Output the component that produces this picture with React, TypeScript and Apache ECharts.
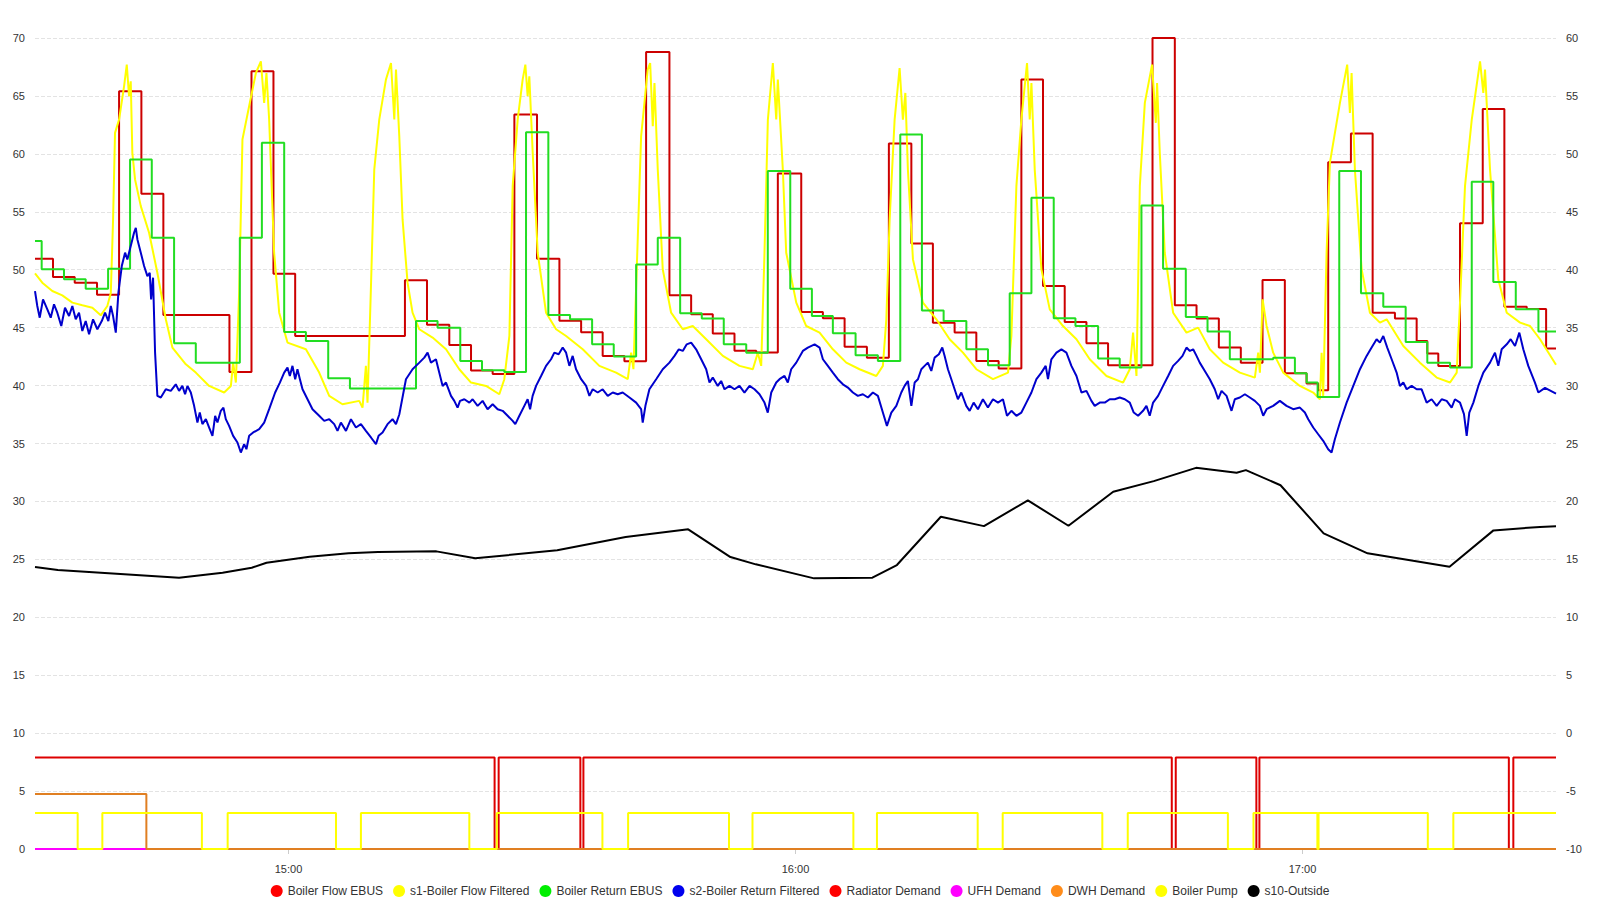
import React, { useEffect, useRef } from "react";
import * as echarts from "echarts";

// time axis: minutes after 14:30
const START = new Date(2024, 0, 15, 14, 30, 0).getTime();
const MINUTE = 60000;

const seriesNames = [
  "Boiler Flow EBUS",
  "s1-Boiler Flow Filtered",
  "Boiler Return EBUS",
  "s2-Boiler Return Filtered",
  "Radiator Demand",
  "UFH Demand",
  "DWH Demand",
  "Boiler Pump",
  "s10-Outside",
];

const flowEbus = [
  [0, 50.95], [2.13, 49.37], [4.7, 48.88], [7.34, 47.84], [9.95, 65.4], [12.59, 56.55], [15.19, 46.1],
  [23.01, 41.18], [25.62, 67.13], [28.22, 49.66], [30.79, 44.28], [43.78, 49.08], [46.39, 45.26],
  [49.03, 43.5], [51.6, 41.3], [54.16, 41.0], [56.73, 63.4], [59.41, 50.95], [62.06, 45.6], [64.63, 44.6],
  [67.18, 42.56], [69.75, 42.1], [72.32, 68.8], [75.08, 47.8], [77.65, 46.15], [80.21, 44.5], [82.78, 43.0],
  [85.35, 42.85], [87.91, 58.3], [90.68, 46.35], [93.24, 45.8], [95.81, 43.36], [98.45, 42.41],
  [101.05, 60.89], [103.71, 52.27], [106.26, 45.43], [108.83, 44.57], [111.4, 42.13], [114.04, 41.47],
  [116.73, 66.41], [119.29, 48.59], [121.86, 45.49], [124.43, 43.65], [126.99, 41.75], [132.25, 70.0],
  [134.89, 46.93], [137.46, 45.78], [140.1, 43.28], [142.7, 41.98], [145.27, 49.11], [147.91, 41.06],
  [150.48, 40.17], [151.86, 39.6], [153.04, 59.28], [155.73, 61.75], [158.3, 46.29], [160.94, 45.78],
  [163.51, 43.85], [164.77, 42.76], [166.07, 41.7], [168.64, 54.0], [171.33, 63.88], [173.89, 46.81],
  [176.54, 46.6], [178.83, 43.2], [180, 43.2],
];

const returnEbus = [
  [0, 52.47], [0.79, 50.03], [3.43, 49.17], [6.0, 48.36], [8.65, 50.09], [11.25, 59.51], [13.82, 52.76],
  [16.46, 43.65], [19.03, 41.98], [24.24, 52.76], [26.85, 60.95], [29.49, 44.63], [32.06, 43.85],
  [34.7, 40.63], [37.27, 39.74], [45.09, 45.57], [47.64, 45.0], [50.33, 42.13], [52.9, 41.32],
  [55.54, 41.18], [58.11, 61.87], [60.75, 46.09], [63.32, 45.72], [65.93, 43.56], [68.49, 42.5],
  [71.14, 50.46], [73.7, 52.76], [76.35, 46.24], [78.91, 45.78], [81.51, 43.56], [84.17, 42.84],
  [86.72, 58.51], [89.38, 48.36], [91.94, 46.0], [94.42, 44.51], [97.11, 42.61], [99.75, 42.13],
  [102.4, 61.67], [104.96, 46.49], [107.53, 45.57], [110.22, 43.13], [112.78, 41.75], [115.35, 47.96],
  [117.92, 56.21], [120.56, 45.8], [123.13, 45.14], [125.81, 42.33], [128.37, 41.55], [130.94, 55.55],
  [133.5, 50.09], [136.19, 45.92], [138.76, 44.66], [141.4, 42.27], [143.97, 42.27], [146.53, 42.41],
  [149.1, 41.06], [150.49, 40.26], [151.79, 39.02], [154.35, 58.51], [156.92, 47.96], [159.56, 46.81],
  [162.21, 43.76], [164.77, 41.98], [167.46, 41.55], [170.03, 57.59], [172.58, 48.94], [175.24, 46.58],
  [177.92, 44.66], [180, 44.66],
];

const flowFiltered = [
  [0, 49.68], [0.86, 48.88], [2.05, 48.16], [3.23, 47.79], [4.42, 47.16], [5.6, 46.93], [6.79, 46.72],
  [7.78, 46.06], [8.56, 46.87], [8.97, 48.0], [9.24, 54.34], [9.47, 61.81], [9.95, 62.96], [10.54, 65.83],
  [10.86, 67.7], [11.13, 64.97], [11.33, 66.26], [11.52, 60.09], [11.84, 57.79], [12.52, 55.49],
  [13.5, 53.19], [14.48, 49.74], [15.48, 45.72], [16.26, 43.28], [17.85, 41.84], [19.03, 41.12],
  [20.61, 39.97], [22.38, 39.4], [23.18, 39.97], [23.45, 41.98], [23.77, 40.26], [24.16, 48.02],
  [24.55, 61.24], [25.34, 64.11], [26.14, 66.98], [26.73, 67.99], [27.12, 64.4], [27.39, 66.98],
  [27.71, 62.96], [28.3, 51.47], [28.9, 46.29], [29.88, 43.71], [32.06, 43.13], [33.63, 41.12],
  [34.82, 39.11], [36.39, 38.39], [38.37, 38.68], [38.76, 38.1], [39.16, 41.7], [39.35, 38.53],
  [39.76, 48.59], [40.15, 58.65], [40.74, 62.96], [41.53, 66.41], [42.13, 67.84], [42.52, 62.96],
  [42.72, 67.27], [43.11, 61.52], [43.5, 54.34], [44.09, 48.88], [44.68, 46.29], [45.48, 44.86],
  [47.05, 44.14], [48.64, 43.13], [50.21, 41.41], [51.6, 40.26], [53.38, 39.97], [54.95, 39.25],
  [55.54, 40.55], [56.14, 44.28], [56.53, 57.21], [57.12, 62.96], [57.71, 66.41], [58.03, 67.7],
  [58.3, 64.97], [58.5, 66.7], [58.9, 60.09], [59.49, 51.47], [60.48, 46.29], [61.67, 44.86],
  [62.85, 44.28], [64.82, 43.13], [66.79, 41.7], [68.77, 41.12], [70.15, 40.55], [70.55, 42.84],
  [70.82, 41.41], [71.21, 50.03], [71.73, 61.52], [72.51, 67.27], [72.8, 67.84], [73.11, 62.39],
  [73.31, 66.12], [73.7, 58.65], [74.29, 50.03], [75.28, 46.29], [76.66, 44.86], [77.84, 45.14],
  [79.43, 44.0], [81.4, 42.56], [83.37, 41.7], [84.95, 41.41], [85.54, 42.84], [85.94, 41.7],
  [86.33, 51.47], [86.73, 62.96], [87.32, 67.84], [87.72, 62.96], [87.91, 66.41], [88.5, 58.65],
  [88.9, 51.47], [90.09, 47.16], [91.27, 45.14], [92.85, 44.57], [94.42, 43.13], [96.01, 41.98],
  [97.58, 41.41], [99.56, 40.83], [100.34, 41.7], [100.75, 45.72], [101.14, 54.34], [101.73, 62.96],
  [102.32, 67.41], [102.71, 62.96], [103.0, 65.26], [103.3, 58.65], [103.9, 50.89], [105.08, 47.16],
  [106.67, 45.72], [108.24, 44.0], [109.82, 42.84], [111.4, 41.41], [113.37, 40.55], [115.15, 41.12],
  [115.55, 44.28], [116.14, 57.21], [116.73, 62.96], [117.4, 67.84], [117.72, 62.96], [117.92, 66.12],
  [118.31, 58.65], [119.1, 50.03], [120.09, 46.58], [121.66, 45.14], [123.25, 44.0], [124.82, 42.27],
  [126.8, 40.83], [128.77, 40.26], [129.56, 41.41], [129.95, 44.57], [130.35, 40.83], [130.75, 57.21],
  [131.34, 64.4], [132.2, 67.7], [132.64, 62.67], [132.79, 66.12], [133.11, 60.09], [133.7, 51.47],
  [134.69, 46.29], [136.27, 44.57], [137.65, 45.0], [139.03, 43.13], [140.61, 41.98], [142.59, 41.12],
  [144.36, 40.69], [144.76, 42.84], [144.96, 41.12], [145.28, 47.44], [145.75, 45.14], [146.53, 42.84],
  [147.72, 41.12], [149.69, 39.97], [151.27, 39.4], [152.06, 38.82], [152.26, 42.84], [152.45, 39.11],
  [152.85, 51.47], [153.24, 59.22], [154.43, 64.4], [155.29, 67.7], [155.61, 63.53], [155.81, 66.98],
  [156.2, 58.65], [157.0, 50.03], [157.98, 46.29], [159.16, 45.43], [159.96, 45.72], [161.93, 43.42],
  [163.9, 41.98], [165.88, 40.69], [167.46, 40.26], [168.25, 41.12], [168.64, 47.16], [169.23, 57.21],
  [170.03, 62.96], [171.01, 67.99], [171.4, 65.26], [171.6, 67.27], [172.19, 58.65], [173.17, 49.17],
  [174.17, 46.29], [175.75, 45.43], [176.93, 45.14], [178.11, 44.0], [180, 41.8],
];

const returnFiltered = [
  [0, 48.16], [0.27, 46.87], [0.56, 45.86], [0.95, 47.44], [1.46, 46.58], [1.86, 45.86], [2.25, 47.01],
  [2.64, 46.29], [3.11, 45.14], [3.55, 46.72], [4.03, 46.0], [4.42, 46.87], [4.82, 45.72], [5.21, 46.29],
  [5.6, 44.71], [6.0, 45.57], [6.4, 44.43], [6.87, 45.72], [7.38, 44.86], [7.9, 45.57], [8.29, 46.29],
  [8.68, 45.57], [8.97, 46.87], [9.24, 46.0], [9.56, 44.57], [9.87, 48.02], [10.27, 50.32], [10.66, 51.47],
  [10.93, 50.89], [11.33, 52.04], [11.72, 53.19], [11.93, 53.62], [12.12, 52.61], [12.52, 51.47],
  [12.91, 50.32], [13.3, 49.45], [13.58, 49.74], [13.74, 47.44], [13.97, 49.31], [14.21, 42.84],
  [14.48, 39.11], [14.89, 38.97], [15.48, 39.68], [16.07, 39.54], [16.66, 40.11], [17.05, 39.54],
  [17.44, 39.97], [17.76, 39.25], [18.04, 39.97], [18.44, 39.4], [18.83, 38.25], [19.22, 36.81],
  [19.5, 37.67], [19.81, 36.67], [20.22, 37.1], [20.61, 36.38], [21.0, 35.66], [21.32, 37.39],
  [21.59, 36.81], [21.99, 37.82], [22.3, 38.1], [22.58, 37.1], [22.97, 36.52], [23.45, 35.66],
  [23.96, 35.09], [24.36, 34.22], [24.75, 34.94], [25.02, 34.51], [25.34, 35.66], [25.82, 35.95],
  [26.53, 36.24], [27.12, 36.81], [27.71, 37.96], [28.42, 39.4], [28.98, 40.26], [29.49, 41.12],
  [29.88, 41.55], [30.16, 40.83], [30.47, 41.7], [30.79, 40.55], [31.06, 41.41], [31.35, 40.55],
  [31.66, 39.68], [32.25, 38.82], [32.84, 37.96], [33.63, 37.39], [34.23, 36.95], [34.82, 37.1],
  [35.41, 36.67], [35.8, 36.09], [36.2, 36.81], [36.8, 36.09], [37.39, 37.1], [37.98, 36.38],
  [38.57, 36.67], [39.16, 36.09], [39.76, 35.52], [40.35, 34.94], [40.66, 35.66], [41.13, 35.95],
  [41.72, 36.67], [42.31, 37.1], [42.72, 36.67], [43.11, 37.5], [43.9, 40.55], [44.68, 41.41],
  [45.48, 41.98], [46.07, 42.41], [46.46, 42.84], [46.86, 41.98], [47.45, 42.27], [47.84, 41.12],
  [48.24, 39.97], [48.64, 40.26], [49.23, 39.11], [49.62, 38.68], [50.01, 38.1], [50.3, 38.68],
  [50.81, 38.82], [51.4, 38.53], [51.79, 38.82], [52.38, 38.25], [52.97, 38.68], [53.56, 37.96],
  [54.16, 38.39], [54.75, 37.96], [55.34, 37.82], [55.93, 37.39], [56.53, 36.95], [56.84, 36.67],
  [57.32, 37.39], [57.91, 38.25], [58.3, 38.82], [58.59, 37.96], [58.89, 39.11], [59.3, 39.97],
  [59.89, 40.83], [60.48, 41.7], [61.07, 42.27], [61.46, 42.84], [61.97, 42.7], [62.45, 43.28],
  [62.85, 42.84], [63.24, 41.7], [63.63, 42.56], [64.03, 41.41], [64.63, 40.55], [65.22, 39.97],
  [65.61, 39.11], [66.0, 39.68], [66.59, 39.4], [67.18, 39.68], [67.78, 39.11], [68.37, 39.4],
  [68.96, 39.25], [69.55, 39.4], [70.35, 38.97], [71.14, 38.53], [71.73, 37.96], [71.92, 36.81],
  [72.24, 38.25], [72.71, 39.68], [73.51, 40.55], [74.29, 41.41], [75.08, 41.98], [75.68, 42.56],
  [76.19, 43.13], [76.66, 42.99], [77.13, 43.56], [77.65, 43.71], [78.24, 43.13], [78.84, 42.27],
  [79.43, 41.41], [79.82, 40.26], [80.21, 40.69], [80.8, 39.97], [81.2, 40.4], [81.6, 39.68],
  [82.19, 39.97], [82.78, 39.68], [83.37, 39.97], [83.96, 39.4], [84.56, 39.97], [85.15, 39.68],
  [85.74, 39.25], [86.33, 38.53], [86.72, 37.67], [87.13, 39.4], [87.72, 40.26], [88.11, 40.55],
  [88.7, 40.83], [89.09, 40.26], [89.49, 41.41], [90.09, 41.98], [90.87, 42.99], [91.46, 43.28],
  [92.26, 43.56], [92.85, 43.28], [93.24, 42.27], [93.83, 41.7], [94.42, 41.12], [95.01, 40.55],
  [95.61, 40.11], [96.2, 39.83], [96.79, 39.4], [97.38, 39.11], [97.97, 39.25], [98.57, 38.97],
  [99.16, 39.4], [99.75, 39.11], [100.34, 37.67], [100.82, 36.52], [101.34, 37.67], [101.93, 38.25],
  [102.52, 39.4], [102.91, 39.97], [103.3, 40.4], [103.71, 38.25], [104.1, 40.26], [104.49, 40.55],
  [104.89, 41.41], [105.28, 41.7], [105.67, 41.98], [106.07, 41.26], [106.46, 42.41], [106.97, 42.7],
  [107.37, 43.28], [107.65, 42.56], [108.04, 41.41], [108.44, 40.55], [108.83, 39.68], [109.22, 38.82],
  [109.62, 39.4], [110.21, 38.25], [110.61, 37.82], [111.08, 38.53], [111.59, 37.96], [112.18, 38.82],
  [112.77, 38.1], [113.37, 38.82], [113.96, 38.53], [114.55, 38.82], [115.03, 37.39], [115.55, 37.82],
  [116.14, 37.39], [116.73, 37.67], [117.32, 38.53], [117.92, 39.4], [118.51, 40.55], [119.1, 41.12],
  [119.61, 41.7], [119.88, 40.55], [120.28, 42.27], [120.88, 42.84], [121.47, 43.13], [122.06, 42.84],
  [122.65, 41.7], [123.25, 40.83], [123.84, 39.4], [124.43, 39.54], [125.02, 38.68], [125.41, 38.25],
  [126.01, 38.53], [126.6, 38.53], [127.19, 38.82], [127.78, 38.82], [128.37, 38.97], [128.97, 38.82],
  [129.56, 38.53], [130.03, 37.67], [130.54, 37.39], [131.13, 37.82], [131.53, 38.25], [131.92, 37.39],
  [132.32, 38.53], [132.91, 39.11], [133.5, 39.97], [134.1, 40.83], [134.69, 41.7], [135.28, 42.13],
  [135.8, 42.56], [136.27, 43.28], [136.67, 42.99], [137.06, 43.13], [137.46, 42.56], [137.84, 41.98],
  [138.44, 41.26], [139.03, 40.55], [139.62, 39.68], [140.02, 38.82], [140.42, 39.54], [141.01, 39.11],
  [141.6, 37.82], [141.99, 38.82], [142.59, 38.97], [143.18, 39.25], [143.77, 38.97], [144.36, 38.68],
  [144.96, 38.25], [145.35, 37.39], [145.75, 37.96], [146.53, 38.25], [147.32, 38.68], [148.11, 38.25],
  [148.9, 37.96], [149.69, 38.1], [150.28, 37.67], [150.68, 37.1], [151.27, 36.38], [151.86, 35.8],
  [152.45, 35.23], [153.04, 34.51], [153.44, 34.22], [153.83, 35.37], [154.43, 36.81], [155.22, 38.53],
  [156.01, 39.97], [156.8, 41.41], [157.59, 42.56], [158.18, 43.28], [158.77, 44.0], [159.16, 43.71],
  [159.56, 44.28], [160.03, 43.28], [160.55, 42.27], [161.14, 41.12], [161.53, 39.97], [161.93, 40.26],
  [162.33, 39.68], [162.92, 39.97], [163.51, 39.68], [164.1, 39.68], [164.69, 38.53], [165.28, 38.82],
  [165.88, 38.25], [166.47, 38.82], [167.06, 38.68], [167.65, 38.1], [168.04, 38.82], [168.64, 38.53],
  [169.11, 37.53], [169.43, 35.66], [169.74, 37.67], [170.22, 38.53], [170.81, 39.97], [171.4, 41.12],
  [172.19, 41.98], [172.78, 42.84], [173.17, 41.7], [173.57, 43.13], [174.17, 43.56], [174.64, 44.0],
  [175.15, 43.42], [175.66, 44.57], [176.13, 43.13], [176.72, 41.7], [177.51, 40.26], [177.91, 39.4],
  [178.7, 39.8], [180, 39.3],
];

const radiatorDemand = [
  [0, 7.9], [54.39, 0], [54.87, 7.9], [64.54, 0], [64.9, 7.9], [134.53, 0], [135.0, 7.9],
  [144.54, 0], [144.9, 7.9], [174.42, 0], [174.95, 7.9], [180, 7.9],
];

const ufhDemand = [[0, 0], [180, 0]];

const dwhDemand = [[0, 4.75], [13.18, 0], [180, 0]];

const boilerPump = [
  [0, 3.1], [5.05, 0], [7.97, 3.1], [19.75, 0], [22.8, 3.1], [35.62, 0], [38.57, 3.1], [51.4, 0],
  [54.65, 3.1], [67.15, 0], [70.19, 3.1], [82.13, 0], [84.91, 3.1], [96.85, 0], [99.64, 3.1],
  [111.56, 0], [114.52, 3.1], [126.31, 0], [129.32, 3.1], [141.17, 0], [144.2, 3.1], [151.76, 0],
  [151.9, 3.1], [164.83, 0], [167.85, 3.1], [180, 3.1],
];

// outside temperature, right axis
const outsideTemp = [
  [0, 14.34], [2.7, 14.08], [17.05, 13.42], [22.2, 13.85], [25.65, 14.28], [27.4, 14.71], [32.5, 15.23],
  [37.1, 15.52], [40.6, 15.63], [47.5, 15.69], [52.1, 15.09], [61.8, 15.78], [69.9, 16.93], [77.3, 17.59],
  [82.3, 15.2], [85.3, 14.57], [92.2, 13.36], [99.1, 13.42], [102, 14.51], [107.2, 18.68], [112.3, 17.87],
  [117.5, 20.09], [122.3, 17.9], [127.6, 20.83], [132.4, 21.75], [137.4, 22.9], [142.2, 22.47],
  [143.3, 22.7], [147.4, 21.4], [152.5, 17.24], [157.7, 15.52], [167.4, 14.37], [172.6, 17.5],
  [178.1, 17.8], [180, 17.85],
];

const colors = ["#cc0000", "#ffff00", "#22dd22", "#0000cc", "#dd0000", "#ff00ff", "#e07f22", "#ffff00", "#000000"];
const legendColors = ["#ff0000", "#ffff00", "#00ee00", "#0000ee", "#ff0000", "#ff00ff", "#ff8c1a", "#ffff00", "#000000"];

export default function App() {
  const ref = useRef<HTMLDivElement>(null);

  useEffect(() => {
    document.body.style.margin = "0";
    const chart = echarts.init(ref.current as HTMLDivElement, null, { renderer: "svg" });
    const toTime = (arr: number[][]) => arr.map(([t, v]) => [START + t * MINUTE, v]);
    const datasets = [
      flowEbus, flowFiltered, returnEbus, returnFiltered, radiatorDemand, ufhDemand, dwhDemand, boilerPump, outsideTemp,
    ];
    const steps = [true, false, true, false, true, true, true, true, false];

    const series = seriesNames.map((name, i) => ({
      name,
      type: "line",
      data: toTime(datasets[i]),
      yAxisIndex: i === 8 ? 1 : 0,
      step: steps[i] ? "end" : false,
      showSymbol: false,
      symbol: "none",
      lineStyle: { color: colors[i], width: 2 },
      itemStyle: { color: legendColors[i] },
      emphasis: { disabled: true },
    }));

    const option = {
      animation: false,
      textStyle: { fontFamily: "'Liberation Sans', Arial, sans-serif" },
      grid: { left: 35, right: 44, top: 38, bottom: 57, containLabel: false },
      legend: {
        data: seriesNames,
        top: 880,
        left: "center",
        icon: "circle",
        itemWidth: 12,
        itemHeight: 12,
        itemGap: 10,
        textStyle: { fontSize: 12, color: "#333" },
      },
      xAxis: {
        type: "time",
        min: START,
        max: START + 180 * MINUTE,
        minInterval: 3600000,
        maxInterval: 3600000,
        axisLine: { show: false },
        axisTick: { show: true, length: 5, lineStyle: { color: "#ccc" } },
        splitLine: { show: false },
        axisLabel: { formatter: "{HH}:{mm}", fontSize: 11, color: "#333", margin: 14 },
      },
      yAxis: [
        {
          type: "value",
          min: 0,
          max: 70,
          interval: 5,
          axisLine: { show: false },
          axisTick: { show: false },
          axisLabel: { fontSize: 11, color: "#333", margin: 10 },
          splitLine: { show: true, lineStyle: { color: "#e3e3e3", type: "dashed", width: 1 } },
        },
        {
          type: "value",
          min: -10,
          max: 60,
          interval: 5,
          position: "right",
          axisLine: { show: false },
          axisTick: { show: false },
          axisLabel: { fontSize: 11, color: "#333", margin: 10 },
          splitLine: { show: false },
        },
      ],
      series,
    };
    chart.setOption(option as any);
    return () => chart.dispose();
  }, []);

  return <div ref={ref} style={{ width: 1600, height: 906 }} />;
}
